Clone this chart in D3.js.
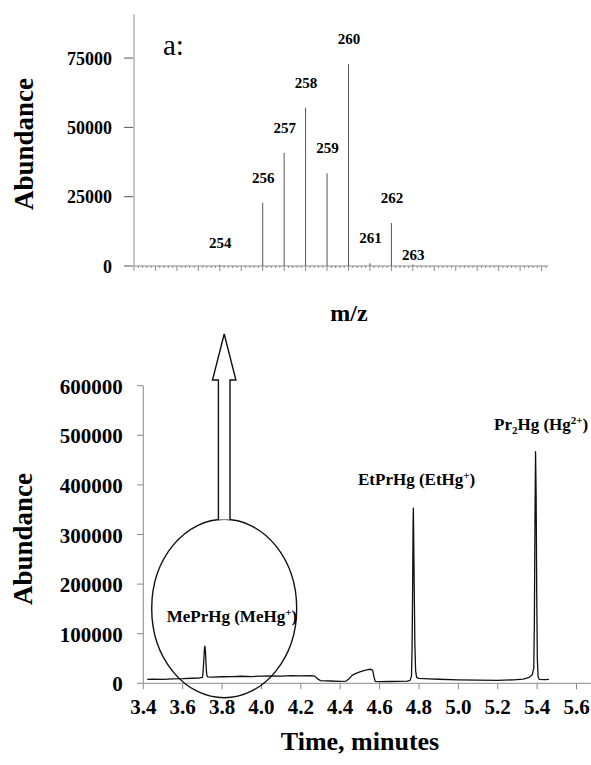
<!DOCTYPE html>
<html>
<head>
<meta charset="utf-8">
<script src="https://cdn.jsdelivr.net/npm/d3@7"></script>
<style>
  body { margin: 0; background: #fff; }
  svg { display: block; }
  text { font-family: "Liberation Serif", "Times New Roman", serif; fill: #000; }
</style>
</head>
<body>
<svg id="chart" width="591" height="765"></svg>
<script>
// mass spectrum (panel a)
var massValues = [254, 256, 257, 258, 259, 260, 261, 262, 263];
var massAbundance = [400, 22800, 40800, 57100, 33400, 72800, 1000, 15500, 500];
var massTicks = [0, 25000, 50000, 75000];

// chromatogram
var chromTime = [3.42, 3.45, 3.50, 3.55, 3.60, 3.65, 3.68, 3.70, 3.703, 3.707, 3.711, 3.713, 3.716, 3.719, 3.722, 3.726,
  3.75, 3.80, 3.85, 3.90, 3.95, 4.00, 4.05, 4.10, 4.15, 4.20, 4.25, 4.27, 4.285, 4.30, 4.35, 4.40, 4.43,
  4.445, 4.46, 4.48, 4.50, 4.52, 4.54, 4.555, 4.565, 4.572, 4.578, 4.60, 4.65, 4.70, 4.74,
  4.755, 4.762, 4.765, 4.768, 4.770, 4.7715, 4.773, 4.776, 4.779, 4.783, 4.788, 4.80, 4.85, 4.90,
  5.00, 5.10, 5.20, 5.28, 5.33, 5.36, 5.375, 5.383, 5.386, 5.389, 5.392, 5.395, 5.398, 5.401, 5.405,
  5.41, 5.44, 5.46];
var chromAbund = [8000, 8600, 8000, 9100, 9400, 10200, 10500, 12000, 20000, 45000, 72000, 75000, 62000, 35000, 18000, 13000,
  12500, 13200, 13500, 14200, 13600, 14500, 15100, 14400, 15600, 15000, 15200, 14500, 9000, 5500, 4600, 4000, 4500,
  9000, 16000, 20000, 23000, 25500, 27500, 28300, 26000, 12000, 4000, 3500, 3600, 4000, 4500,
  6000, 15000, 70000, 200000, 320000, 353000, 300000, 190000, 80000, 25000, 12000, 10000, 9000, 8200,
  7000, 6600, 6000, 7000, 8500, 12000, 17000, 30000, 120000, 320000, 467000, 380000, 180000, 50000, 14000,
  8000, 7500, 8000];
var timeTicks = [3.4, 3.6, 3.8, 4.0, 4.2, 4.4, 4.6, 4.8, 5.0, 5.2, 5.4, 5.6];
var chromTicks = [0, 100000, 200000, 300000, 400000, 500000, 600000];

var svg = d3.select("#chart");
var axisColor = "#8a8a8a";

// ---------- top panel ----------
var xm = d3.scaleLinear().domain([250, 269.3]).range([134, 548]);
var ym = d3.scaleLinear().domain([0, 90000]).range([266, 16.5]);

var spec = svg.append("g");

spec.append("line")
  .attr("x1", 134).attr("x2", 134)
  .attr("y1", ym(90700)).attr("y2", ym(0))
  .attr("stroke", axisColor);
spec.append("line")
  .attr("x1", xm(250)).attr("x2", xm(269.3))
  .attr("y1", ym(0)).attr("y2", ym(0))
  .attr("stroke", axisColor);

// minor ticks every 0.2, long ones on integers
var minor = d3.range(0, 97).map(function(i) { return 250 + i * 0.2; });
spec.selectAll(".mtick").data(minor).enter().append("line")
  .attr("x1", function(d) { return xm(d); })
  .attr("x2", function(d) { return xm(d); })
  .attr("y1", ym(0))
  .attr("y2", function(d, i) { return ym(0) + (i % 5 == 0 ? 5 : 2); })
  .attr("stroke", axisColor);

spec.selectAll(".ytick").data(massTicks).enter().append("line")
  .attr("x1", 124).attr("x2", 133)
  .attr("y1", function(d) { return ym(d); })
  .attr("y2", function(d) { return ym(d); })
  .attr("stroke", "#555");
spec.selectAll(".ylab").data(massTicks).enter().append("text")
  .attr("x", 112).attr("y", function(d) { return ym(d) + 6.5; })
  .attr("text-anchor", "end")
  .style("font-size", "18px").style("font-weight", "bold")
  .text(function(d) { return d; });

spec.selectAll(".stick").data(massValues).enter().append("line")
  .attr("x1", function(d) { return xm(d); })
  .attr("x2", function(d) { return xm(d); })
  .attr("y1", ym(0))
  .attr("y2", function(d, i) { return ym(massAbundance[i]); })
  .attr("stroke", "#555").attr("stroke-width", 1);

// small peaks get their labels nudged
var labelDy = { 254: 3, 263: 15 };
spec.selectAll(".mlab").data(massValues).enter().append("text")
  .attr("x", function(d) { return xm(d) + 0.5; })
  .attr("y", function(d, i) { return ym(massAbundance[i]) - 20 + (labelDy[d] || 0); })
  .attr("text-anchor", "middle")
  .style("font-size", "15px").style("font-weight", "bold")
  .text(function(d) { return d; });

spec.append("text")
  .attr("x", 163).attr("y", 55)
  .style("font-size", "29px")
  .text("a:");

spec.append("text")
  .attr("transform", "translate(33,144) rotate(-90)")
  .attr("text-anchor", "middle")
  .style("font-size", "27px").style("font-weight", "bold")
  .text("Abundance");

spec.append("text")
  .attr("x", 349).attr("y", 321)
  .attr("text-anchor", "middle")
  .style("font-size", "24px").style("font-weight", "bold")
  .text("m/z");

// ---------- bottom panel ----------
var xt = d3.scaleLinear().domain([3.4, 5.6]).range([143.3, 576.5]);
var yt = d3.scaleLinear().domain([0, 600000]).range([683.3, 385.7]);

var bot = svg.append("g");

bot.append("line")
  .attr("x1", xt(3.4)).attr("x2", xt(3.4))
  .attr("y1", yt(600000)).attr("y2", yt(0))
  .attr("stroke", axisColor);
bot.append("line")
  .attr("x1", xt(3.4)).attr("x2", 591)
  .attr("y1", yt(0)).attr("y2", yt(0))
  .attr("stroke", axisColor);

bot.selectAll(".xtick").data(timeTicks).enter().append("line")
  .attr("x1", function(d) { return xt(d); })
  .attr("x2", function(d) { return xt(d); })
  .attr("y1", yt(0)).attr("y2", yt(0) + 6)
  .attr("stroke", axisColor);
bot.selectAll(".xlab").data(timeTicks).enter().append("text")
  .attr("x", function(d) { return xt(d); })
  .attr("y", 714)
  .attr("text-anchor", "middle")
  .style("font-size", "21px").style("font-weight", "bold")
  .text(d3.format(".1f"));

bot.selectAll(".ytick").data(chromTicks).enter().append("line")
  .attr("x1", 137).attr("x2", xt(3.4))
  .attr("y1", function(d) { return yt(d); })
  .attr("y2", function(d) { return yt(d); })
  .attr("stroke", axisColor);
bot.selectAll(".ylab").data(chromTicks).enter().append("text")
  .attr("x", 122.7).attr("y", function(d) { return yt(d) + 8; })
  .attr("text-anchor", "end")
  .style("font-size", "21px").style("font-weight", "bold")
  .text(function(d) { return d; });

var line = d3.line()
  .x(function(d, i) { return xt(chromTime[i]); })
  .y(function(d) { return yt(d); });
bot.append("path")
  .datum(chromAbund)
  .attr("d", line)
  .attr("fill", "none")
  .attr("stroke", "#111")
  .attr("stroke-width", 1.3)
  .attr("stroke-linejoin", "round");

// circle around the first peak and the arrow up to the spectrum
bot.append("ellipse")
  .attr("cx", 224.2).attr("cy", 608.5)
  .attr("rx", 72.5).attr("ry", 89.2)
  .attr("fill", "none").attr("stroke", "#111").attr("stroke-width", 1.4);

var ax = 224.2;
var arrow = [[ax - 5.8, 519.5], [ax - 5.8, 380], [ax - 11.7, 380], [ax, 334],
  [ax + 11.7, 380], [ax + 5.8, 380], [ax + 5.8, 519.5]];
bot.append("path")
  .attr("d", d3.line()(arrow))
  .attr("fill", "#fff").attr("stroke", "#111").attr("stroke-width", 1.4);

function peakLabel(x, y, parts) {
  var t = bot.append("text").attr("x", x).attr("y", y)
    .style("font-size", "17px").style("font-weight", "bold");
  parts.forEach(function(p) {
    var s = t.append("tspan").text(p[0]);
    if(p[1] == "sup") s.attr("dy", -6).style("font-size", "11px");
    if(p[1] == "sub") s.attr("dy", 4).style("font-size", "11px");
    if(p[1] == "back") s.attr("dy", 6);
    if(p[1] == "up") s.attr("dy", -4);
  });
}
peakLabel(166.7, 621.7, [["MePrHg (MeHg"], ["+", "sup"], [")", "back"]]);
peakLabel(358, 485, [["EtPrHg (EtHg"], ["+", "sup"], [")", "back"]]);
peakLabel(494, 430, [["Pr"], ["2", "sub"], ["Hg (Hg", "up"], ["2+", "sup"], [")", "back"]]);

bot.append("text")
  .attr("transform", "translate(32,539) rotate(-90)")
  .attr("text-anchor", "middle")
  .style("font-size", "27px").style("font-weight", "bold")
  .text("Abundance");

bot.append("text")
  .attr("x", 360).attr("y", 750)
  .attr("text-anchor", "middle")
  .style("font-size", "26px").style("font-weight", "bold")
  .text("Time, minutes");
</script>
</body>
</html>
